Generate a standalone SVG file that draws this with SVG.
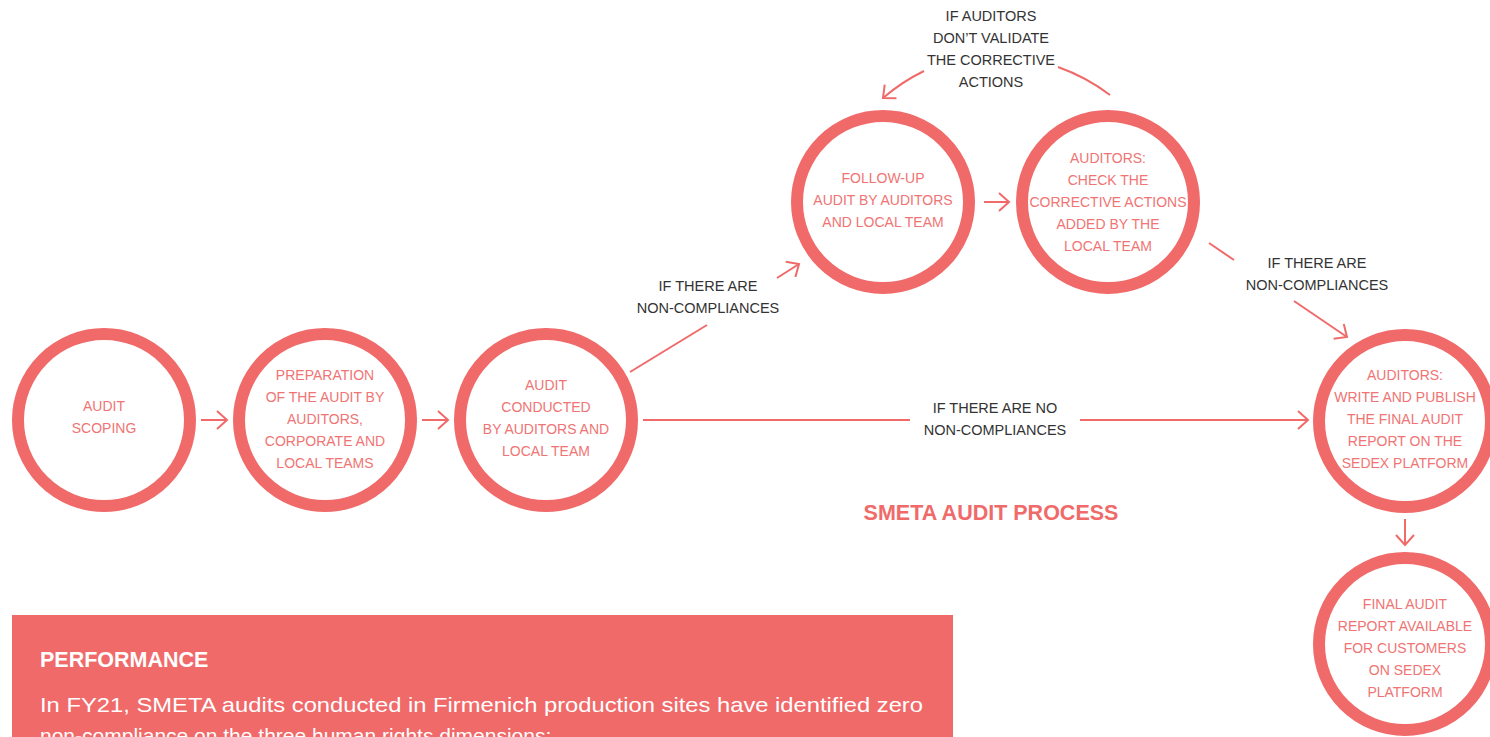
<svg xmlns="http://www.w3.org/2000/svg" width="1490" height="737" viewBox="0 0 1490 737">
<defs>
<style>
.ring{fill:#fff;stroke:#F06A6A;stroke-width:12}
.nt{font-family:"Liberation Sans",Arial,sans-serif;font-size:14px;fill:#F07474;text-anchor:middle}
.lb{font-family:"Liberation Sans",Arial,sans-serif;font-size:14.5px;fill:#333;text-anchor:middle}
.cn{fill:none;stroke:#F06A6A;stroke-width:2}
</style>
<marker id="ah" markerUnits="userSpaceOnUse" markerWidth="14" markerHeight="20" viewBox="0 0 14 20" refX="11" refY="10" orient="auto">
<path d="M1,1 L11,10 L1,19" fill="none" stroke="#F06A6A" stroke-width="2"/>
</marker>
</defs>
<rect width="1490" height="737" fill="#fff"/>

<g id="connectors">
<line class="cn" x1="201" y1="420" x2="227" y2="420" marker-end="url(#ah)"/>
<line class="cn" x1="422" y1="420" x2="448" y2="420" marker-end="url(#ah)"/>
<line class="cn" x1="630" y1="372" x2="707" y2="325"/>
<line class="cn" x1="777" y1="278" x2="799" y2="264" marker-end="url(#ah)"/>
<line class="cn" x1="643" y1="420" x2="910" y2="420"/>
<line class="cn" x1="1080" y1="420" x2="1308" y2="420" marker-end="url(#ah)"/>
<line class="cn" x1="984" y1="202" x2="1009" y2="202" marker-end="url(#ah)"/>
<path class="cn" d="M1110,95 A192,192 0 0 0 1058,67"/>
<path class="cn" d="M924,71 A192,192 0 0 0 883,98" marker-end="url(#ah)"/>
<line class="cn" x1="1209" y1="243" x2="1234" y2="260"/>
<line class="cn" x1="1294" y1="301" x2="1347" y2="337" marker-end="url(#ah)"/>
<line class="cn" x1="1405" y1="519" x2="1405" y2="545" marker-end="url(#ah)"/>
</g>

<g id="labels">
<text class="lb" x="708" y="291">IF THERE ARE</text>
<text class="lb" x="708" y="313">NON-COMPLIANCES</text>
<text class="lb" x="995" y="413">IF THERE ARE NO</text>
<text class="lb" x="995" y="435">NON-COMPLIANCES</text>
<text class="lb" x="991" y="21">IF AUDITORS</text>
<text class="lb" x="991" y="43">DON’T VALIDATE</text>
<text class="lb" x="991" y="65">THE CORRECTIVE</text>
<text class="lb" x="991" y="87">ACTIONS</text>
<text class="lb" x="1317" y="268">IF THERE ARE</text>
<text class="lb" x="1317" y="290">NON-COMPLIANCES</text>
</g>

<g id="n1">
<circle class="ring" cx="104" cy="420" r="86"/>
<text class="nt" x="104" y="411">AUDIT</text>
<text class="nt" x="104" y="433">SCOPING</text>
</g>
<g id="n2">
<circle class="ring" cx="325" cy="420" r="86"/>
<text class="nt" x="325" y="380">PREPARATION</text>
<text class="nt" x="325" y="402">OF THE AUDIT BY</text>
<text class="nt" x="325" y="424">AUDITORS,</text>
<text class="nt" x="325" y="446">CORPORATE AND</text>
<text class="nt" x="325" y="468">LOCAL TEAMS</text>
</g>
<g id="n3">
<circle class="ring" cx="546" cy="420" r="86"/>
<text class="nt" x="546" y="390">AUDIT</text>
<text class="nt" x="546" y="412">CONDUCTED</text>
<text class="nt" x="546" y="434">BY AUDITORS AND</text>
<text class="nt" x="546" y="456">LOCAL TEAM</text>
</g>
<g id="n4">
<circle class="ring" cx="883" cy="202" r="86"/>
<text class="nt" x="883" y="183">FOLLOW-UP</text>
<text class="nt" x="883" y="205">AUDIT BY AUDITORS</text>
<text class="nt" x="883" y="227">AND LOCAL TEAM</text>
</g>
<g id="n5">
<circle class="ring" cx="1108" cy="202" r="86"/>
<text class="nt" x="1108" y="163">AUDITORS:</text>
<text class="nt" x="1108" y="185">CHECK THE</text>
<text class="nt" x="1108" y="207">CORRECTIVE ACTIONS</text>
<text class="nt" x="1108" y="229">ADDED BY THE</text>
<text class="nt" x="1108" y="251">LOCAL TEAM</text>
</g>
<g id="n6">
<circle class="ring" cx="1405" cy="421" r="86"/>
<text class="nt" x="1405" y="380">AUDITORS:</text>
<text class="nt" x="1405" y="402">WRITE AND PUBLISH</text>
<text class="nt" x="1405" y="424">THE FINAL AUDIT</text>
<text class="nt" x="1405" y="446">REPORT ON THE</text>
<text class="nt" x="1405" y="468">SEDEX PLATFORM</text>
</g>
<g id="n7">
<circle class="ring" cx="1405" cy="644" r="86"/>
<text class="nt" x="1405" y="609">FINAL AUDIT</text>
<text class="nt" x="1405" y="631">REPORT AVAILABLE</text>
<text class="nt" x="1405" y="653">FOR CUSTOMERS</text>
<text class="nt" x="1405" y="675">ON SEDEX</text>
<text class="nt" x="1405" y="697">PLATFORM</text>
</g>

<text x="991" y="520" font-family="Liberation Sans, Arial, sans-serif" font-size="21.5" font-weight="bold" fill="#F06A6A" text-anchor="middle">SMETA AUDIT PROCESS</text>

<g id="performance">
<rect x="12" y="615" width="941" height="130" fill="#F06A6A"/>
<text x="40" y="667" font-family="Liberation Sans, Arial, sans-serif" font-size="21.5" font-weight="bold" fill="#fff">PERFORMANCE</text>
<text x="40" y="712" font-family="Liberation Sans, Arial, sans-serif" font-size="21" fill="#fff" textLength="883" lengthAdjust="spacingAndGlyphs">In FY21, SMETA audits conducted in Firmenich production sites have identified zero</text>
<text x="40" y="743" font-family="Liberation Sans, Arial, sans-serif" font-size="21" fill="#fff">non-compliance on the three human rights dimensions:</text>
</g>
</svg>
